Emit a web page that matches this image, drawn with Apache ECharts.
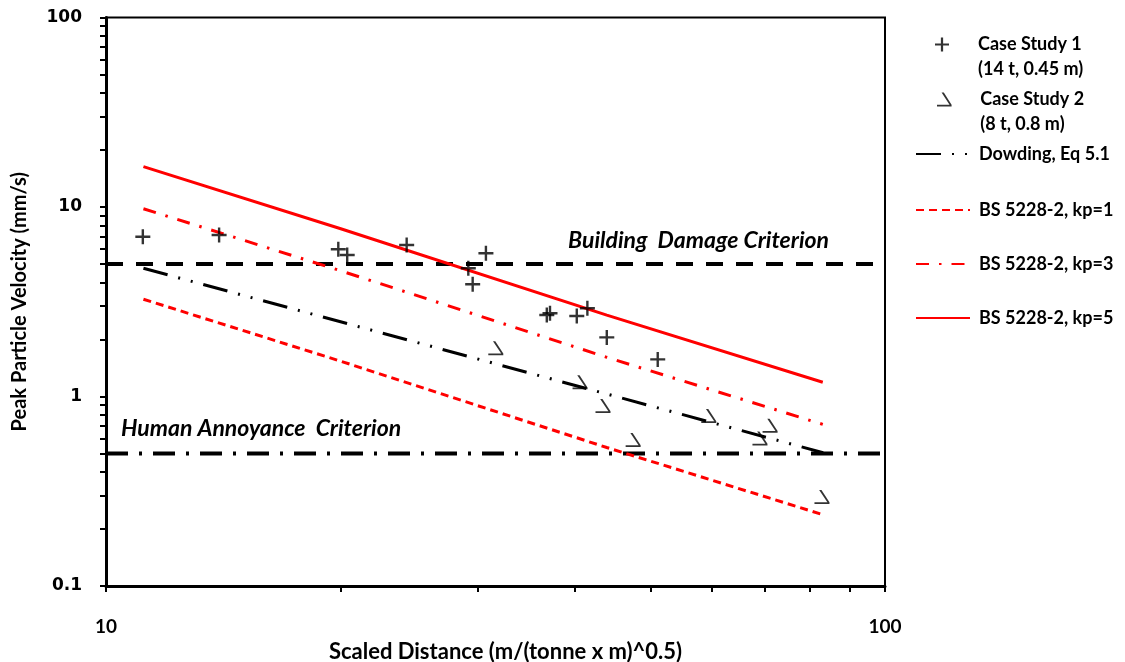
<!DOCTYPE html>
<html>
<head>
<meta charset="utf-8">
<script src="https://cdn.jsdelivr.net/npm/echarts@6/dist/echarts.min.js"></script>
<style>
html,body{margin:0;padding:0;background:#fff;}
#chart{width:1125px;height:662px;}
</style>
</head>
<body>
<div id="chart"></div>
<script>
// ---- data ----
const case1 = [[11.15,6.97],[13.97,7.12],[19.87,5.98],[20.40,5.58],[24.32,6.30],[29.18,4.75],[29.56,3.91],[30.74,5.70],[36.80,2.69],[37.15,2.75],[40.21,2.66],[41.49,2.92],[43.94,2.05],[51.08,1.57]];
const case2 = [[31.65,1.80],[40.6,1.19],[43.45,0.89],[47.5,0.59],[59.4,0.79],[71.2,0.70],[69.1,0.60],[83.0,0.295]];
const dowding = [[11.17,4.75],[83.3,0.505]];
const bsX = [11.17,19.97,43.94,83.2];
const bsKp1 = [3.26,1.54,0.538,0.238];
const bsKp3 = [9.79,4.62,1.61,0.713];
const bsKp5 = [16.32,7.70,2.69,1.189];
const buildingDamage = [[10,5],[100,5]];
const humanAnnoyance = [[10,0.5],[100,0.5]];
const xTicks = [10,20,30,40,50,60,70,80,90,100];
const xLabels = [10,100];
const yTicks = [0.1,0.2,0.3,0.4,0.5,0.6,0.7,0.8,0.9,1,2,3,4,5,6,7,8,9,10,20,30,40,50,60,70,80,90,100];
const yLabels = [0.1,1,10,100];
const names = ['Case Study 1','Case Study 2','Dowding, Eq 5.1','BS 5228-2, kp=1','BS 5228-2, kp=3','BS 5228-2, kp=5'];
const subNames = {'Case Study 1':'(14 t, 0.45 m)','Case Study 2':'(8 t, 0.8 m)'};

const FONT = 'Lato';
const plusPath = 'path://M42,0 H58 V42 H100 V58 H58 V100 H42 V58 H0 V42 H42 Z';
const triPath = 'path://M4.7,0 L7,0 L15,12.6 L15,14.4 L0,14.4 L0,12.6 L12.9,12.6 Z';
const noSymbol = 'path://M0,0 L0.01,0 L0.01,0.01 Z';

const zip = (xs, ys) => xs.map((x,i)=>[x, ys[i]]);

const chart = echarts.init(document.getElementById('chart'), null, {renderer:'canvas'});

const txt = {fontFamily:FONT,fontWeight:'bold',fontSize:18,color:'#000'};
const legendTops = [7,62,145,201,255,309];
const legendLefts = [935,937,915,915,915,915];
const legends = names.map((n,i)=>{
  const two = !!subNames[n];
  return {
    show:true, orient:'vertical', left:legendLefts[i], top:legendTops[i], padding:0,
    itemWidth:54, itemHeight:14, itemGap:0,
    data:[n],
    selectedMode:false,
    formatter: two ? (name)=> '{s| }\n{a|' + name + '}\n{a|' + subNames[name] + '}' : (name)=>'{a|' + name + '}',
    textStyle: Object.assign({}, txt, {rich:{
      s:{fontSize:10, lineHeight:25, height:25},
      a:Object.assign({}, txt, {lineHeight:25, padding:[0,0,0,4]})
    }})
  };
});

const lineBase = {type:'line', symbol:noSymbol, showSymbol:false, silent:true, emphasis:{disabled:true}, z:3};

const option = {
  animation:false,
  backgroundColor:'#fff',
  grid:{left:106, top:17.5, right:240, bottom:76, outerBoundsMode:'none', containLabel:false, show:true, borderColor:'#000', borderWidth:2, backgroundColor:'transparent'},
  legend: legends,
  xAxis:{
    type:'log', logBase:10, min:10, max:100,
    name:'Scaled Distance (m/(tonne x m)^0.5)', nameLocation:'middle', nameGap:48,
    nameTextStyle:{fontFamily:FONT,fontWeight:'bold',fontSize:22,color:'#000',padding:[0,0,0,20]},
    axisLine:{show:true,onZero:false,lineStyle:{color:'#000',width:3}},
    axisTick:{show:true,inside:false,length:6,lineStyle:{color:'#000',width:2},customValues:xTicks},
    axisLabel:{show:true,margin:31,fontFamily:FONT,fontWeight:'bold',fontSize:19,color:'#000',customValues:xLabels,formatter:(v)=>String(v)},
    splitLine:{show:false}, minorTick:{show:false}
  },
  yAxis:{
    type:'log', logBase:10, min:0.1, max:100,
    name:'Peak Particle Velocity (mm/s)', nameLocation:'middle', nameGap:76,
    nameTextStyle:{fontFamily:FONT,fontWeight:'bold',fontSize:20,color:'#000'},
    axisLine:{show:true,onZero:false,lineStyle:{color:'#000',width:3}},
    axisTick:{show:true,inside:false,length:6,lineStyle:{color:'#000',width:2},customValues:yTicks},
    axisLabel:{show:true,margin:24,fontFamily:'DejaVu Sans',fontWeight:'bold',fontSize:17,color:'#000',customValues:yLabels,formatter:(v)=>String(v)},
    splitLine:{show:false}, minorTick:{show:false}
  },
  series:[
    {name:names[0], type:'scatter', data:case1, symbol:plusPath, symbolSize:15, itemStyle:{color:'#000'}, z:5, silent:true, emphasis:{disabled:true}},
    {name:names[1], type:'scatter', data:case2, symbol:triPath, symbolSize:[15,14], itemStyle:{color:'#000'}, z:5, silent:true, emphasis:{disabled:true}},
    Object.assign({}, lineBase, {name:names[2], data:dowding, lineStyle:{color:'#000',width:3,type:[25,11,2,11,2,11],cap:'butt'}, itemStyle:{color:'rgba(0,0,0,0)'}}),
    Object.assign({}, lineBase, {name:names[3], data:zip(bsX,bsKp1), lineStyle:{color:'#ff0000',width:3,type:[8,5],cap:'butt'}, itemStyle:{color:'rgba(0,0,0,0)'}}),
    Object.assign({}, lineBase, {name:names[4], data:zip(bsX,bsKp3), lineStyle:{color:'#ff0000',width:3,type:[13,10,2.5,10],cap:'butt'}, itemStyle:{color:'rgba(0,0,0,0)'}}),
    Object.assign({}, lineBase, {name:names[5], data:zip(bsX,bsKp5), lineStyle:{color:'#ff0000',width:3,type:'solid'}, itemStyle:{color:'rgba(0,0,0,0)'}}),
    Object.assign({}, lineBase, {name:'Building Damage Criterion', data:buildingDamage, lineStyle:{color:'#000',width:4,type:[17,13],cap:'butt'}, z:2}),
    Object.assign({}, lineBase, {name:'Human Annoyance Criterion', data:humanAnnoyance, lineStyle:{color:'#000',width:4,type:[22,11,3,11],cap:'butt'}, z:2})
  ],
  graphic:[
    {type:'text', left:568, top:229, silent:true, style:{text:'Building  Damage Criterion', fontFamily:FONT, fontWeight:'bold', fontStyle:'italic', fontSize:23, fill:'#000'}},
    {type:'text', left:121, top:417, silent:true, style:{text:'Human Annoyance  Criterion', fontFamily:FONT, fontWeight:'bold', fontStyle:'italic', fontSize:23, fill:'#000'}}
  ]
};
chart.setOption(option);
</script>
</body>
</html>
